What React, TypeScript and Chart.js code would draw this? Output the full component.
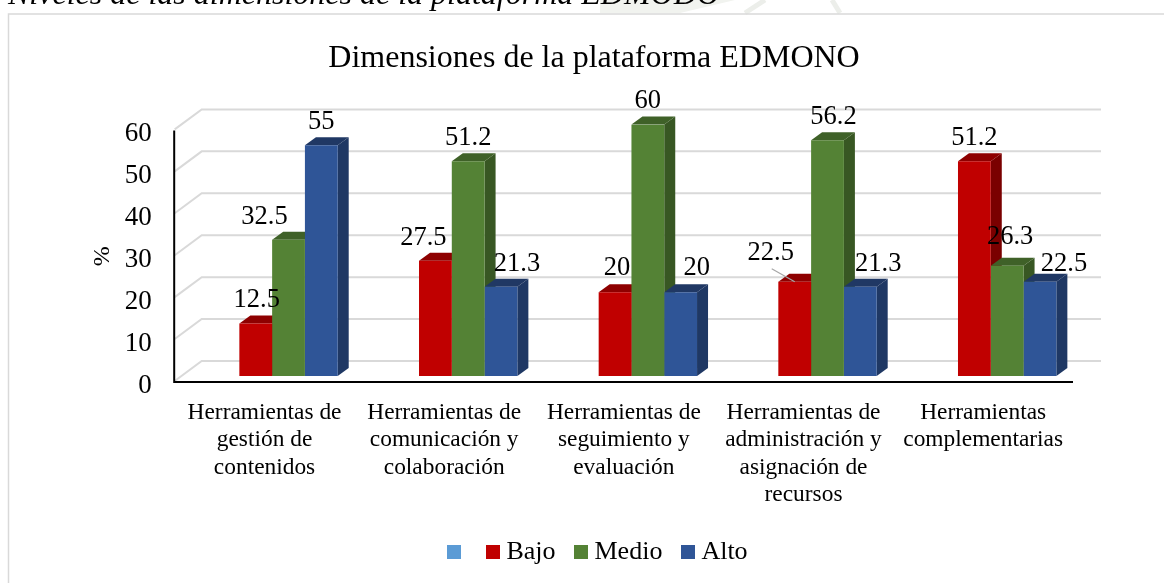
import React, { useEffect, useRef } from "react";
import { Chart, registerables } from "chart.js";

Chart.register(...registerables);

const FONT = '"Liberation Serif", "Times New Roman", serif';
const caption = "Niveles de las dimensiones de la plataforma EDMODO";
const chartTitle = "Dimensiones de la plataforma EDMONO";
const yAxisTitle = "%  ";
const categories = [
  ["Herramientas de", "gestión de", "contenidos"],
  ["Herramientas de", "comunicación y", "colaboración"],
  ["Herramientas de", "seguimiento y", "evaluación"],
  ["Herramientas de", "administración y", "asignación de", "recursos"],
  ["Herramientas", "complementarias"],
];
const bajo = [12.5, 27.5, 20, 22.5, 51.2];
const medio = [32.5, 51.2, 60, 56.2, 26.3];
const alto = [55, 21.3, 20, 21.3, 22.5];

const palette = [
  { front: "#C00000", top: "#8E0000", side: "#7A0000" },
  { front: "#548235", top: "#3F6128", side: "#385723" },
  { front: "#2F5597", top: "#203864", side: "#1F3864" },
];
const blankLegendColor = "#5B9BD5";

// manual label nudges (series -> category), as in the original chart
const labelDx = [
  [1, -12, 2, -24, 0],
  [-24, 0, 0, 6, 3],
  [0, 16, 16, 18, 24],
];
const labelDy = [
  [-25, -24, -25, -30, -24],
  [-24, -24, -24, -24, -30],
  [-24, -24, -25, -24, -19],
];

const DEPTH_X = 11;
const DEPTH_Y = 8;

function swatch(color: string) {
  const c = document.createElement("canvas");
  c.width = 14;
  c.height = 14;
  const g = c.getContext("2d")!;
  g.fillStyle = color;
  g.fillRect(0, 0, 14, 14);
  return c;
}

const decorPlugin = {
  id: "decor",
  beforeDraw(chart: any) {
    const { ctx, width, height } = chart;
    // the original title and legend are centred on their own offsets
    chart.titleBlock.left = 91;
    chart.titleBlock.right = 1097;
    chart.legend.left = 94;
    chart.legend.right = 1107;
    ctx.save();
    ctx.fillStyle = "#ffffff";
    ctx.fillRect(0, 0, width, height);
    // faint watermark of the source page, above the frame
    ctx.fillStyle = "#F1F3EF";
    ctx.beginPath();
    ctx.moveTo(600, 13);
    ctx.lineTo(680, 13);
    ctx.lineTo(735, 0);
    ctx.lineTo(600, 0);
    ctx.closePath();
    ctx.fill();
    ctx.strokeStyle = "#ECEEEA";
    ctx.lineWidth = 5;
    ctx.beginPath();
    ctx.moveTo(745, 13);
    ctx.lineTo(765, 0);
    ctx.moveTo(840, 13);
    ctx.lineTo(832, 0);
    ctx.stroke();
    ctx.strokeStyle = "#D9D9D9";
    ctx.lineWidth = 1.5;
    ctx.strokeRect(8.5, 14, width + 20, height + 20);
    ctx.fillStyle = "#000";
    ctx.font = `italic 32px ${FONT}`;
    ctx.textBaseline = "alphabetic";
    ctx.textAlign = "left";
    ctx.fillText(caption, 8, 4);
    ctx.restore();
  },
  beforeDatasetsDraw(chart: any) {
    const { ctx, chartArea } = chart;
    const y = chart.scales.y;
    ctx.save();
    ctx.strokeStyle = "#D9D9D9";
    ctx.lineWidth = 2;
    y.ticks.forEach((t: any) => {
      const p = y.getPixelForValue(t.value);
      ctx.beginPath();
      ctx.moveTo(chartArea.left - 24, p + 5);
      ctx.lineTo(chartArea.left + 3, p - 15);
      ctx.lineTo(chartArea.right + 4, p - 15);
      ctx.stroke();
    });
    // front axes
    ctx.strokeStyle = "#000";
    ctx.lineWidth = 2;
    ctx.beginPath();
    ctx.moveTo(chartArea.left - 24.5, y.getPixelForValue(60) + 6);
    ctx.lineTo(chartArea.left - 24.5, y.getPixelForValue(0) + 6);
    ctx.lineTo(chartArea.right - 24, y.getPixelForValue(0) + 6);
    ctx.stroke();
    // 3D faces
    chart.data.datasets.forEach((ds: any, di: number) => {
      if (ds.type === "line") return;
      const colors = palette[di - 1];
      chart.getDatasetMeta(di).data.forEach((bar: any) => {
        const { x, y: top, base, width: w } = bar.getProps(["x", "y", "base", "width"], true);
        const l = x - w / 2;
        const r = x + w / 2;
        ctx.fillStyle = colors.side;
        ctx.beginPath();
        ctx.moveTo(r, top);
        ctx.lineTo(r + DEPTH_X, top - DEPTH_Y);
        ctx.lineTo(r + DEPTH_X, base - DEPTH_Y);
        ctx.lineTo(r, base);
        ctx.closePath();
        ctx.fill();
        ctx.fillStyle = colors.top;
        ctx.beginPath();
        ctx.moveTo(l, top);
        ctx.lineTo(l + DEPTH_X, top - DEPTH_Y);
        ctx.lineTo(r + DEPTH_X, top - DEPTH_Y);
        ctx.lineTo(r, top);
        ctx.closePath();
        ctx.fill();
      });
    });
    ctx.restore();
  },
  afterDatasetsDraw(chart: any) {
    const { ctx } = chart;
    ctx.save();
    ctx.fillStyle = "#000";
    ctx.font = `26.5px ${FONT}`;
    ctx.textAlign = "center";
    ctx.textBaseline = "middle";
    chart.data.datasets.forEach((ds: any, di: number) => {
      if (ds.type === "line") return;
      const s = di - 1;
      chart.getDatasetMeta(di).data.forEach((bar: any, i: number) => {
        const { x, y: top } = bar.getProps(["x", "y"], true);
        ctx.fillText(String(ds.data[i]), x + labelDx[s][i], top + labelDy[s][i] + 1);
      });
    });
    // leader line of the moved 22.5 label
    const b = chart.getDatasetMeta(1).data[3].getProps(["x", "y"], true);
    ctx.strokeStyle = "#A6A6A6";
    ctx.lineWidth = 1.2;
    ctx.beginPath();
    ctx.moveTo(b.x - 23, b.y - 13);
    ctx.lineTo(b.x, b.y);
    ctx.stroke();
    ctx.restore();
  },
};

export default function App() {
  const ref = useRef<HTMLCanvasElement>(null);
  useEffect(() => {
    const swatches = [blankLegendColor, palette[0].front, palette[1].front, palette[2].front].map(swatch);
    const chart = new Chart(ref.current!, {
      type: "bar",
      data: {
        labels: categories as any,
        datasets: [
          { type: "line", label: "", data: [], backgroundColor: blankLegendColor } as any,
          { label: "Bajo", data: bajo, backgroundColor: palette[0].front, barPercentage: 1, categoryPercentage: 0.5475 },
          { label: "Medio", data: medio, backgroundColor: palette[1].front, barPercentage: 1, categoryPercentage: 0.5475 },
          { label: "Alto", data: alto, backgroundColor: palette[2].front, barPercentage: 1, categoryPercentage: 0.5475 },
        ],
      },
      options: {
        responsive: false,
        animation: false,
        layout: { padding: { left: 84, right: 67, top: 0, bottom: 8 } },
        plugins: {
          tooltip: { enabled: false },
          title: {
            display: true,
            text: chartTitle,
            color: "#000",
            font: { family: FONT, size: 32, weight: "normal" },
            padding: { top: 39, bottom: 47 },
          },
          legend: {
            position: "bottom",
            onClick: () => {},
            labels: {
              color: "#000",
              font: { family: FONT, size: 26 },
              usePointStyle: true,
              boxWidth: 1,
              boxHeight: 1,
              padding: 25,
              generateLabels(c: any) {
                return Chart.defaults.plugins.legend.labels
                  .generateLabels(c)
                  .map((l: any, i: number) => ({ ...l, pointStyle: swatches[i] }));
              },
            },
          },
        },
        scales: {
          x: {
            grid: { display: false },
            border: { display: false },
            ticks: {
              color: "#000",
              font: { family: FONT, size: 23.4, lineHeight: 1.17 },
              labelOffset: -24,
              maxRotation: 0,
              minRotation: 0,
              autoSkip: false,
              padding: 15,
            },
            afterFit(s: any) {
              s.height = 138;
            },
          },
          y: {
            min: 0,
            max: 60,
            grid: { display: false },
            border: { display: false },
            title: {
              display: true,
              text: yAxisTitle,
              color: "#000",
              font: { family: FONT, size: 24 },
            },
            ticks: {
              color: "#000",
              font: { family: FONT, size: 27 },
              stepSize: 10,
              padding: 39,
              labelOffset: 9.5,
            },
            afterFit(s: any) {
              s.width = 198.7 - 84;
            },
          },
        },
      },
      plugins: [decorPlugin],
    } as any);
    return () => chart.destroy();
  }, []);
  return (
    <div style={{ position: "fixed", left: 0, top: 0, width: 1164, height: 583, overflow: "hidden" }}>
      <canvas ref={ref} width={1164} height={583} style={{ display: "block" }} />
    </div>
  );
}
